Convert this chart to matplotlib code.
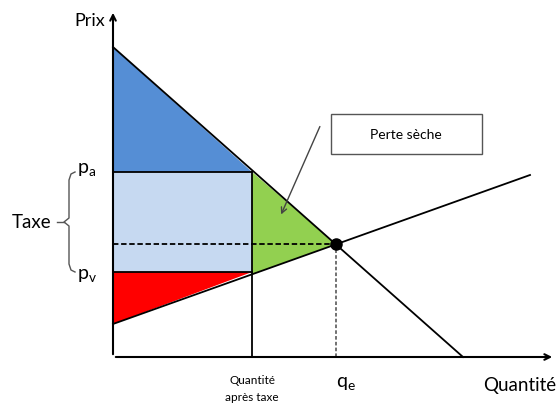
import matplotlib.pyplot as plt
from matplotlib.patches import Polygon, Rectangle

# courbes (quantité, prix)
demand_q = [0, 350]
demand_p = [310, 0]
supply_q = [0, 417]
supply_p = [33, 182]

p_a = 185   # prix acheteur
p_v = 85    # prix vendeur
q_t = 139   # quantité après taxe
q_e = 223   # quantité d'équilibre
p_e = 113   # prix d'équilibre


def demand(q):
    return demand_p[0] + (demand_p[1] - demand_p[0]) * q / demand_q[1]


def supply(q):
    return supply_p[0] + (supply_p[1] - supply_p[0]) * q / supply_q[1]


plt.rcParams['font.family'] = ['Lato', 'DejaVu Sans']
plt.rcParams['mathtext.fontset'] = 'custom'
plt.rcParams['mathtext.rm'] = 'Lato'
plt.rcParams['mathtext.it'] = 'Lato'

fig = plt.figure(figsize=(5.6, 4.14), dpi=100)
ax = fig.add_axes([0, 0, 1, 1])
ax.set_xlim(-113, 447)
ax.set_ylim(-56, 358)
ax.axis('off')

# zones
ax.add_patch(Polygon([(0, demand(0)), (0, p_a), (q_t, p_a)],
                     closed=True, fc='#558ED5', ec='none'))
ax.add_patch(Rectangle((0, p_v), q_t, p_a - p_v, fc='#C6D9F1', ec='none'))
ax.add_patch(Polygon([(0, supply(0)), (0, p_v), (q_t, p_v)],
                     closed=True, fc='#FF0000', ec='none'))
ax.add_patch(Polygon([(q_t, p_a), (q_e, p_e), (q_t, supply(q_t))],
                     closed=True, fc='#92D050', ec='none'))

# courbes
ax.plot(demand_q, demand_p, color='black', lw=1.3)
ax.plot(supply_q, supply_p, color='black', lw=1.3)

# contours
ax.plot([0, q_t], [p_a, p_a], color='black', lw=1.3)
ax.plot([0, q_t], [p_v, p_v], color='black', lw=1.3)
ax.plot([q_t, q_t], [0, p_a], color='black', lw=1.3)
ax.plot([0, q_e], [p_e, p_e], color='black', lw=1.3, ls=(0, (3, 1.5)))
ax.plot([q_e, q_e], [0, p_e], color='#666666', lw=1.3, ls=(0, (2, 1.2)))
ax.plot(q_e, p_e, 'o', color='black', ms=8)

# axes
ax.annotate('', xy=(442, 0), xytext=(0, 0),
            arrowprops=dict(arrowstyle='->', color='black', lw=1.5))
ax.annotate('', xy=(0, 347), xytext=(0, 0),
            arrowprops=dict(arrowstyle='->', color='black', lw=1.5))

ax.text(-8, 337, 'Prix', fontsize=13, ha='right', va='center')
ax.text(443, -28, 'Quantité', fontsize=13.5, ha='right', va='center')
ax.text(q_e + 10, -26, r'q$_\mathrm{e}$', fontsize=14, ha='center', va='center')
ax.text(q_t, -23, 'Quantité', fontsize=8.5, ha='center', va='center')
ax.text(q_t, -40, 'après taxe', fontsize=8.5, ha='center', va='center')
ax.text(-36, p_a + 3, r'p$_\mathrm{a}$', fontsize=14, ha='left', va='center')
ax.text(-36, p_v - 3, r'p$_\mathrm{v}$', fontsize=14, ha='left', va='center')
ax.text(-62, (p_a + p_v) / 2 + 1, 'Taxe', fontsize=13.5, ha='right', va='center')

# accolade
mid = (p_a + p_v) / 2
bx = -44
ax.plot([bx + 6, bx + 2, bx, bx, bx - 5, bx, bx, bx + 2, bx + 6],
        [p_a, p_a - 2, p_a - 8, mid + 4, mid, mid - 4, p_v + 8, p_v + 2, p_v],
        color='#555555', lw=1)
ax.plot([bx - 5, bx - 12], [mid, mid], color='#555555', lw=1)

# perte sèche
ax.add_patch(Rectangle((218, 203), 151, 40, fc='white', ec='#555555', lw=1))
ax.text(293, 223, 'Perte sèche', fontsize=10, ha='center', va='center')
ax.annotate('', xy=(167, 140), xytext=(208, 233),
            arrowprops=dict(arrowstyle='->', color='#444444', lw=1))

plt.savefig('out.png', dpi=100)
